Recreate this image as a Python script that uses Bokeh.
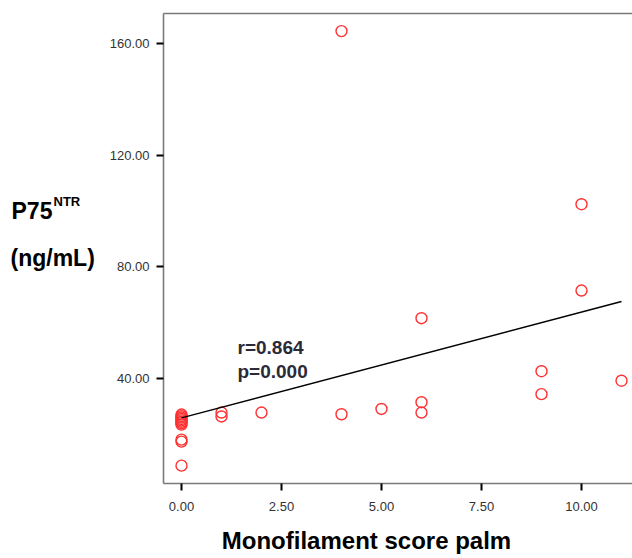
from bokeh.plotting import figure
from bokeh.layouts import row, column
from bokeh.models import Range1d, LinearAxis, FixedTicker, PrintfTickFormatter, Label, ColumnDataSource
from bokeh.embed import file_html
from bokeh.resources import INLINE

# Data
monofilament = [0, 0, 0, 0, 0, 0, 0, 0, 0, 0, 0,
                1, 1, 2, 4, 4, 5, 6, 6, 6, 9, 9, 10, 10, 11]
p75ntr = [27.1, 26.5, 26.0, 25.5, 25.0, 24.5, 24.0, 23.5, 18.1, 17.4, 8.8,
          27.8, 26.4, 27.8, 164.4, 27.2, 29.1, 61.6, 31.5, 27.8, 42.6, 34.4, 102.4, 71.5, 39.2]
fit_intercept = 25.9
fit_slope = 3.79
fit_x = [0, 11]
fit_y = [fit_intercept + fit_slope * x for x in fit_x]
x_ticks = [0, 2.5, 5, 7.5, 10]
y_ticks = [40, 80, 120, 160]
r_text = "r=0.864"
p_text = "p=0.000"
y_title_main = "P75"
y_title_sup = "NTR"
y_title_unit = "(ng/mL)"
x_title = "Monofilament score palm"

FONT = "Liberation Sans"


def blank_fig(w, h):
    f = figure(width=w, height=h, output_backend="svg", toolbar_location=None,
               x_range=Range1d(0, w), y_range=Range1d(0, h),
               x_axis_type=None, y_axis_type=None,
               min_border_left=0, min_border_right=0, min_border_top=0, min_border_bottom=0)
    f.outline_line_color = None
    f.xgrid.visible = False
    f.ygrid.visible = False
    return f


def lab(fig, text, x, y, size, color="black", align="left"):
    fig.add_layout(Label(x=x, y=y, x_units="screen", y_units="screen", text=text,
                         text_font=FONT, text_font_style="bold", text_font_size=size,
                         text_color=color, text_align=align, text_baseline="alphabetic"))


p = figure(width=532, height=515, output_backend="svg", toolbar_location=None,
           x_range=Range1d(-0.45, 11.275), y_range=Range1d(2.40, 170.7),
           x_axis_type=None, y_axis_type=None,
           min_border_left=63, min_border_right=0, min_border_top=13, min_border_bottom=32)
p.outline_line_color = None
p.xgrid.visible = False
p.ygrid.visible = False


def style_axis(ax):
    ax.axis_line_color = "#7a7a7a"
    ax.axis_line_width = 1.6
    ax.major_tick_line_color = "black"
    ax.major_tick_line_width = 2
    ax.major_tick_out = 7
    ax.major_tick_in = 0
    ax.minor_tick_line_color = None
    ax.major_label_text_font = FONT
    ax.major_label_text_font_size = "13px"
    ax.major_label_text_color = "#333333"
    ax.formatter = PrintfTickFormatter(format="%.2f")


yax = LinearAxis(ticker=FixedTicker(ticks=y_ticks))
style_axis(yax)
yax.major_label_standoff = 7
p.add_layout(yax, "left")

xax = LinearAxis(ticker=FixedTicker(ticks=x_ticks))
style_axis(xax)
xax.major_label_standoff = 11
p.add_layout(xax, "below")

top = LinearAxis(ticker=FixedTicker(ticks=[]))
top.axis_line_color = "#7a7a7a"
top.axis_line_width = 1.6
top.major_tick_out = 0
top.major_tick_in = 0
top.minor_tick_line_color = None
top.major_label_text_font_size = "0px"
p.add_layout(top, "above")

src = ColumnDataSource(dict(x=monofilament, y=p75ntr))
p.scatter("x", "y", source=src, marker="circle", size=11, fill_color=None,
          line_color="#ff3030", line_width=1.4)

p.line(fit_x, fit_y, line_color="black", line_width=1.4)

lab(p, r_text, 74, 136, "19px", "#2a2a38")
lab(p, p_text, 74, 112, "19px", "#2a2a38")

# left title panel
lf = blank_fig(100, 515)
lab(lf, y_title_main, 11, 273, "23px")
lab(lf, y_title_sup, 53, 282, "13px")
lab(lf, y_title_unit, 10, 226, "23px")

# bottom title panel
bf = blank_fig(632, 43)
lab(bf, x_title, 366, 18, "24px", align="center")

layout = column(row(lf, p), bf)
open("out.html", "w").write(file_html(layout, INLINE))
